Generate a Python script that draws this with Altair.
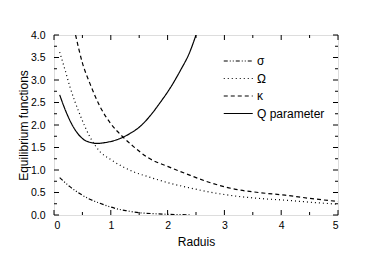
import altair as alt
import pandas as pd

# ---- data ----
sigma_x = [0.1, 0.28, 0.46, 0.63, 0.81, 0.99, 1.13, 1.3, 1.5, 1.75, 2.0, 2.4]
sigma_y = [0.83, 0.63, 0.47, 0.35, 0.26, 0.18, 0.13, 0.09, 0.05, 0.03, 0.015, 0.005]

omega_x = [0.1, 0.2, 0.28, 0.46, 0.63, 0.81, 1.0, 1.2, 1.4, 1.66, 2.0, 2.4, 2.7, 3.2, 3.6, 4.07, 4.5, 5.0]
omega_y = [3.62, 3.2, 2.85, 2.22, 1.74, 1.41, 1.23, 1.08, 0.96, 0.85, 0.72, 0.60, 0.52, 0.42, 0.37, 0.33, 0.285, 0.24]

kappa_x = [0.38, 0.5, 0.63, 0.81, 1.0, 1.2, 1.4, 1.66, 2.0, 2.4, 2.7, 3.2, 3.6, 4.07, 4.5, 5.0]
kappa_y = [4.0, 3.38, 2.93, 2.41, 2.03, 1.75, 1.52, 1.27, 1.08, 0.88, 0.74, 0.57, 0.50, 0.44, 0.37, 0.30]

q_x = [0.1, 0.2, 0.3, 0.4, 0.52, 0.65, 0.75, 0.9, 1.05, 1.2, 1.35, 1.51, 1.69, 1.87, 2.05, 2.22, 2.39, 2.5]
q_y = [2.67, 2.33, 2.05, 1.84, 1.68, 1.61, 1.59, 1.61, 1.65, 1.72, 1.82, 1.96, 2.2, 2.5, 2.83, 3.2, 3.62, 4.0]

series_names = ["σ", "Ω", "κ", "Q parameter"]
series_dash = [[4, 2, 1, 2, 1, 2], [1, 3], [4, 3], [1, 0]]

x_major = [0, 1, 2, 3, 4, 5]
x_minor = [0.5, 1.5, 2.5, 3.5, 4.5]
y_major = [0, 0.5, 1.0, 1.5, 2.0, 2.5, 3.0, 3.5, 4.0]
y_minor = [0.25, 0.75, 1.25, 1.75, 2.25, 2.75, 3.25, 3.75]

W, H = 284, 180
FONT = "Liberation Sans"

rows = []
for name, xs, ys in zip(series_names, [sigma_x, omega_x, kappa_x, q_x], [sigma_y, omega_y, kappa_y, q_y]):
    for i, (a, b) in enumerate(zip(xs, ys)):
        rows.append({"r": a, "v": b, "series": name, "order": i})
df = pd.DataFrame(rows)

xscale = alt.Scale(domain=[0, 5], nice=False, zero=False)
yscale = alt.Scale(domain=[0, 4], nice=False, zero=False)

x_axis = alt.Axis(values=x_major, format="d", ticks=False, domain=False, grid=False, labelPadding=5,
                  labelFontSize=10.5, titleFontSize=12, titlePadding=6, labelFont=FONT,
                  titleFont=FONT, titleFontWeight="normal", labelColor="black", titleColor="black",
                  labelOverlap=False)
y_axis = alt.Axis(values=y_major, format=".1f", ticks=False, domain=False, grid=False,
                  labelPadding=9, labelFontSize=10.5, titleFontSize=12, titlePadding=0,
                  labelFont=FONT, titleFont=FONT, titleFontWeight="normal",
                  labelColor="black", titleColor="black", labelOverlap=False)

lines = alt.Chart(df).mark_line(color="black", strokeWidth=1.2, clip=True, interpolate="monotone").encode(
    x=alt.X("r:Q", scale=xscale, title="Raduis", axis=x_axis),
    y=alt.Y("v:Q", scale=yscale, title="Equilibrium functions", axis=y_axis),
    strokeDash=alt.StrokeDash("series:N", sort=series_names,
                              scale=alt.Scale(domain=series_names, range=series_dash),
                              legend=alt.Legend(title=None, orient="none", legendX=169, legendY=18,
                                                symbolType="M-1,0H3", symbolSize=210,
                                                symbolStrokeColor="black", symbolStrokeWidth=1.2,
                                                labelFontSize=12, labelFont=FONT, labelColor="black",
                                                labelOffset=18, rowPadding=3.5)),
    order="order:Q",
)

def tick_layer(vals, axis, length):
    d = pd.DataFrame({"t": vals})
    base = alt.Chart(d).mark_rule(color="black", strokeWidth=1)
    if axis == "x":
        enc = alt.X("t:Q", scale=xscale, title="Raduis", axis=x_axis)
        bottom = base.encode(x=enc, y=alt.value(H), y2=alt.value(H - length))
        top = base.encode(x=enc, y=alt.value(0), y2=alt.value(length))
        return [bottom, top]
    enc = alt.Y("t:Q", scale=yscale, title="Equilibrium functions", axis=y_axis)
    left = base.encode(y=enc, x=alt.value(0), x2=alt.value(length))
    right = base.encode(y=enc, x=alt.value(W), x2=alt.value(W - length))
    return [left, right]

layers = [lines]
layers += tick_layer(x_major, "x", 5)
layers += tick_layer(x_minor, "x", 3)
layers += tick_layer(y_major, "y", 5)
layers += tick_layer(y_minor, "y", 3)

chart = alt.layer(*layers).properties(
    width=W, height=H,
    autosize=alt.AutoSizeParams(type="none"),
    padding={"left": 46, "top": 27, "right": 20, "bottom": 40},
).configure_view(stroke="black", strokeWidth=1.5).configure(background="white")

chart.save("out.html", embed_options={"renderer": "svg", "actions": False})
